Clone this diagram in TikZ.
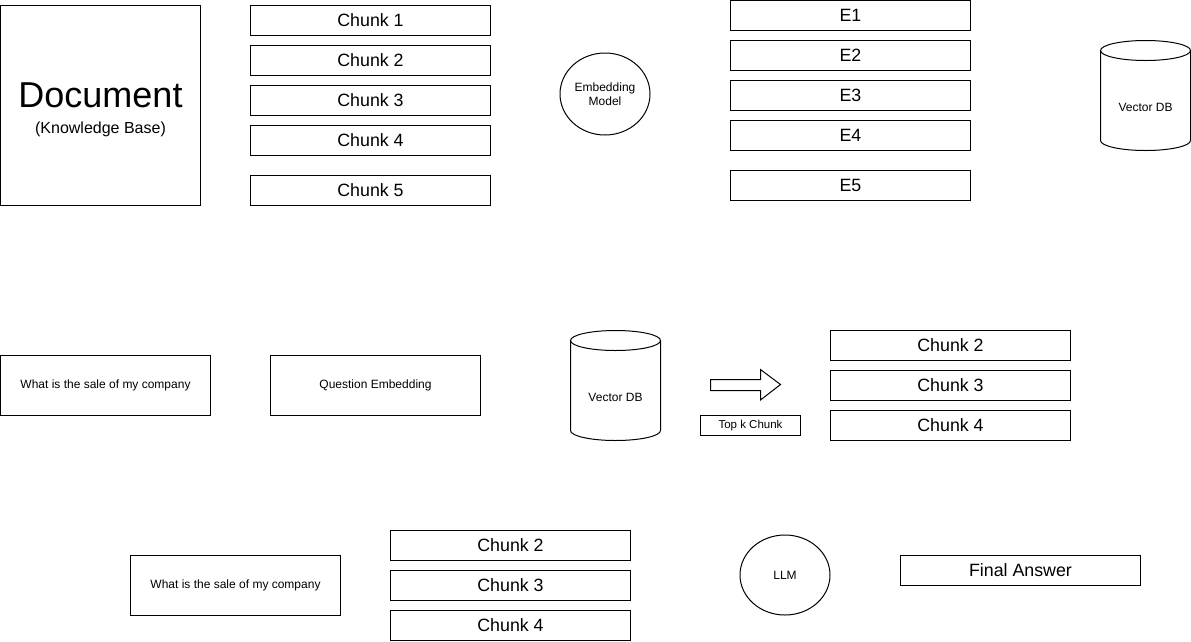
\documentclass[tikz,border=0pt]{standalone}
\usepackage{fontspec}
\setmainfont{Liberation Sans}
\usepackage{tikz}
\usetikzlibrary{shapes.geometric}
\tikzset{
docbox/.style={rectangle, draw=black!100,fill=none,line width=1pt, inner sep=0pt, minimum width= 200pt, minimum height = 200pt},
doctext/.style={align=center, inner sep=0pt, font=\fontsize{16}{26}\selectfont},
chunkbox/.style={rectangle, draw=black!100,fill=none,line width=1pt, inner sep=0pt, minimum width= 240pt, minimum height = 30pt, font=\fontsize{17.8}{20}\selectfont},
querybox/.style={rectangle, draw=black!100,fill=none,line width=1pt, inner sep=0pt, minimum width= 210pt, minimum height = 60pt, font=\fontsize{12}{14}\selectfont},
tagbox/.style={rectangle, draw=black!100,fill=none,line width=1pt, inner sep=0pt, minimum width= 100pt, minimum height = 20pt, font=\fontsize{11.5}{14}\selectfont},
modelnode/.style={ellipse, draw=black!100,fill=none,line width=1pt, inner sep=0pt, minimum width= 90pt, minimum height = 82pt, align=center, font=\fontsize{12}{14.5}\selectfont},
dbline/.style={draw=black!100, fill=none, line width=1pt},
dbtext/.style={inner sep=0pt, font=\fontsize{12}{14}\selectfont},
}

\begin{document}
\begin{tikzpicture}[x=1pt,y=-1pt]
    \useasboundingbox (0,0) rectangle (1191,641);
    % indexing
    \node[docbox] at (100.5,105.5) (doc) [label={[doctext, yshift=-4.5pt]center:{{\fontsize{36}{26}\selectfont Document}\\(Knowledge Base)}}] {};
    \node[chunkbox] at (370.5,20.5) (c1) {Chunk 1};
    \node[chunkbox] at (370.5,60.5) (c2) {Chunk 2};
    \node[chunkbox] at (370.5,100.5) (c3) {Chunk 3};
    \node[chunkbox] at (370.5,140.5) (c4) {Chunk 4};
    \node[chunkbox] at (370.5,190.5) (c5) {Chunk 5};
    \node[modelnode] at (605,94) (emb) {Embedding\\Model};
    \node[chunkbox] at (850.5,15.5) (e1) {E1};
    \node[chunkbox] at (850.5,55.5) (e2) {E2};
    \node[chunkbox] at (850.5,95.5) (e3) {E3};
    \node[chunkbox] at (850.5,135.5) (e4) {E4};
    \node[chunkbox] at (850.5,185.5) (e5) {E5};
    \begin{scope}[shift={(1145.5,95.5)}]
    \draw[dbline] (0,-45) ellipse [x radius=45, y radius=10];
    \draw[dbline] (-45,-45) -- (-45,45) arc[start angle=180, end angle=0, x radius=45, y radius=10] -- (45,-45);
    \node[dbtext] at (0,12) (db) {Vector DB};
    \end{scope}
    % retrieval
    \node[querybox] at (105.5,385.5) (q) {What is the sale of my company};
    \node[querybox] at (375.5,385.5) (qe) {Question Embedding};
    \begin{scope}[shift={(615.5,385.5)}]
    \draw[dbline] (0,-45) ellipse [x radius=45, y radius=10];
    \draw[dbline] (-45,-45) -- (-45,45) arc[start angle=180, end angle=0, x radius=45, y radius=10] -- (45,-45);
    \node[dbtext] at (0,12) (dbq) {Vector DB};
    \end{scope}
    \draw[line width=1pt, black] (710.5,379.5) -- (760.5,379.5) -- (760.5,369.5) -- (780.5,384.5) -- (760.5,400) -- (760.5,390.5) -- (710.5,390.5) -- cycle;
    \node[tagbox] at (750.5,425.5) (topk) {Top k Chunk};
    \node[chunkbox] at (950.5,345.5) (r2) {Chunk 2};
    \node[chunkbox] at (950.5,385.5) (r3) {Chunk 3};
    \node[chunkbox] at (950.5,425.5) (r4) {Chunk 4};
    % generation
    \node[querybox] at (235.5,585.5) (q2) {What is the sale of my company};
    \node[chunkbox] at (510.5,545.5) (g2) {Chunk 2};
    \node[chunkbox] at (510.5,585.5) (g3) {Chunk 3};
    \node[chunkbox] at (510.5,625.5) (g4) {Chunk 4};
    \node[modelnode, minimum height=80pt] at (785,575) (llm) {LLM};
    \node[chunkbox] at (1020.5,570.5) (ans) {Final Answer};
\end{tikzpicture}
\end{document}
